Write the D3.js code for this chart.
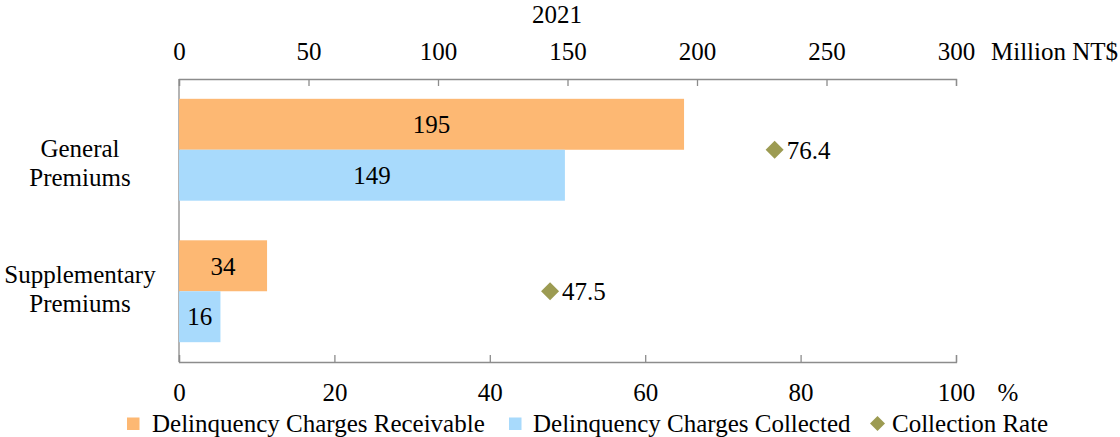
<!DOCTYPE html>
<html><head><meta charset="utf-8">
<script src="https://cdn.jsdelivr.net/npm/d3@7"></script>
<style>
html,body{margin:0;padding:0;background:#fff;}
svg{display:block;font-family:"Liberation Serif","Times New Roman",serif;}
</style></head>
<body>
<svg id="chart" width="1120" height="437"></svg>
<script>
const categories = [["General","Premiums"],["Supplementary","Premiums"]];
const categoryKeys = ["General Premiums","Supplementary Premiums"];
const seriesNames = ["Delinquency Charges Receivable","Delinquency Charges Collected","Collection Rate"];
const receivable = [195, 34];
const collected = [149, 16];
const collectionRate = [76.4, 47.5];
const amountTicks = [0,50,100,150,200,250,300];
const pctTicks = [0,20,40,60,80,100];
const yearLabel = "2021";
const amountUnit = "Million NT$";
const pctUnit = "%";

const colors = {rec:"#FDB873", col:"#A8DAFC", rate:"#9C9B52", axis:"#8C8C8C"};
const svg = d3.select("#chart");
const FS = 25;
const L = 179, R = 956, T = 79, B = 362;

const x = d3.scaleLinear().domain([0,300]).range([L,R]);
const xp = d3.scaleLinear().domain([0,100]).range([L,R]);
const y0 = d3.scaleBand().domain(categoryKeys).range([T,B]).paddingInner(0.28).paddingOuter(0.14);
const y1 = d3.scaleBand().domain(["rec","col"]).range([0,y0.bandwidth()]);

// Top axis
const topAx = svg.append("g").attr("transform",`translate(0,${T})`)
  .call(d3.axisTop(x).tickValues(amountTicks).tickSizeInner(-7).tickSizeOuter(-7).tickPadding(19));
// Bottom axis
const botAx = svg.append("g").attr("transform",`translate(0,${B})`)
  .call(d3.axisBottom(xp).tickValues(pctTicks).tickSizeInner(-7).tickSizeOuter(-7).tickPadding(21));
[topAx,botAx].forEach(g=>{
  g.attr("font-family",null).attr("font-size",null);
  g.selectAll("path,line").attr("stroke",colors.axis).attr("stroke-width",1.3);
  g.selectAll("text").attr("font-size",FS).attr("fill","#000");
});
// left axis line
svg.append("line").attr("x1",L).attr("x2",L).attr("y1",T).attr("y2",B)
  .attr("stroke",colors.axis).attr("stroke-width",1.3);

// Bars
const data = categoryKeys.map((k,i)=>({k, rec:receivable[i], col:collected[i], rate:collectionRate[i]}));
data.forEach(d=>{
  ["rec","col"].forEach(s=>{
    const yy = y0(d.k)+y1(s);
    svg.append("rect").attr("x",x(0)).attr("y",yy).attr("width",x(d[s])-x(0)).attr("height",y1.bandwidth())
      .attr("fill",colors[s]);
    svg.append("text").attr("x",(x(0)+x(d[s]))/2).attr("y",yy+y1.bandwidth()/2).attr("dy","0.35em")
      .attr("text-anchor","middle").attr("font-size",FS).text(d[s]);
  });
  const cy = y0(d.k)+y0.bandwidth()/2, cx = xp(d.rate)+2, r = 9;
  svg.append("path").attr("d",`M${cx},${cy-r}L${cx+r},${cy}L${cx},${cy+r}L${cx-r},${cy}Z`).attr("fill",colors.rate);
  svg.append("text").attr("x",cx+r+3).attr("y",cy).attr("dy","0.35em").attr("font-size",FS).text(d.rate.toFixed(1));
});

// Category labels
const labelShift = [7, -8];
categories.forEach((lines,i)=>{
  const cy = y0(categoryKeys[i])+y0.bandwidth()/2;
  lines.forEach((ln,j)=>{
    svg.append("text").attr("x",80).attr("y",cy+labelShift[i]+j*29)
      .attr("text-anchor","middle").attr("font-size",FS).text(ln);
  });
});

// Titles / units
svg.append("text").attr("x",557).attr("y",23).attr("text-anchor","middle").attr("font-size",FS).text(yearLabel);
svg.append("text").attr("x",991).attr("y",60).attr("font-size",FS).text(amountUnit);
svg.append("text").attr("x",1008).attr("y",401).attr("text-anchor","middle").attr("font-size",FS).text(pctUnit);

// Legend
const legY = 423.5;
const leg = [{x:127, tx:152, type:"rect", c:colors.rec, t:seriesNames[0]},
             {x:509, tx:533, type:"rect", c:colors.col, t:seriesNames[1]},
             {x:870, tx:892, type:"diamond", c:colors.rate, t:seriesNames[2]}];
leg.forEach(l=>{
  if(l.type==="rect"){
    svg.append("rect").attr("x",l.x).attr("y",legY-6).attr("width",12.5).attr("height",12.5).attr("fill",l.c);
  } else {
    const cx=l.x+7.5, r=7.5;
    svg.append("path").attr("d",`M${cx},${legY-r}L${cx+r},${legY}L${cx},${legY+r}L${cx-r},${legY}Z`).attr("fill",l.c);
  }
  svg.append("text").attr("x",l.tx).attr("y",legY).attr("dy","0.32em").attr("font-size",FS).text(l.t);
});
</script>
</body></html>
